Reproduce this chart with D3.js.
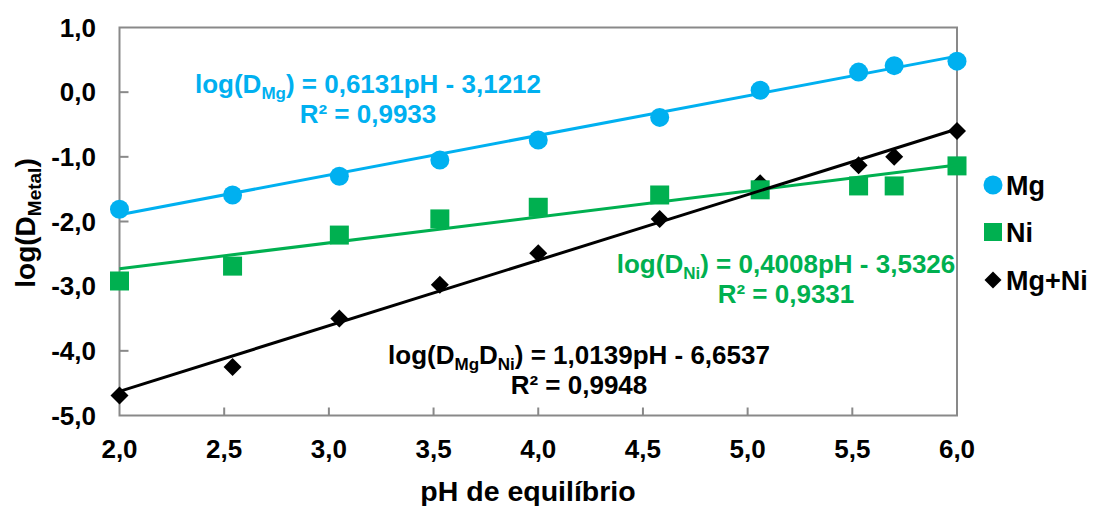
<!DOCTYPE html>
<html>
<head>
<meta charset="utf-8">
<script src="https://cdn.jsdelivr.net/npm/d3@7"></script>
<style>
  html, body { margin: 0; padding: 0; background: #fff; }
  svg { display: block; font-family: "Liberation Sans", Arial, sans-serif; font-weight: bold; }
</style>
</head>
<body>
<svg id="chart" width="1094" height="506"></svg>
<script>
// pH de equilíbrio for each experiment
const phMg   = [2.00, 2.54, 3.05, 3.53, 4.00, 4.58, 5.06, 5.53, 5.70, 6.00];
const phNi   = [2.00, 2.54, 3.05, 3.53, 4.00, 4.58, 5.06, 5.53, 5.70, 6.00];
const phMgNi = [2.00, 2.54, 3.05, 3.53, 4.00, 4.58, 5.06, 5.53, 5.70, 6.00];

// log of distribution coefficients
const logDMg   = [-1.81, -1.59, -1.30, -1.05, -0.74, -0.39, 0.03, 0.31, 0.41, 0.48];
const logDNi   = [-2.92, -2.69, -2.21, -1.96, -1.78, -1.59, -1.51, -1.45, -1.45, -1.14];
const logDMgNi = [-4.69, -4.25, -3.50, -2.98, -2.49, -1.96, -1.41, -1.13, -1.00, -0.60];

// linear fits: [slope, intercept]
const fitMg   = [0.6131, -3.1212];
const fitNi   = [0.4008, -3.5326];
const fitMgNi = [1.0139, -6.6537];

const xTicks = [2.0, 2.5, 3.0, 3.5, 4.0, 4.5, 5.0, 5.5, 6.0];
const yTicks = [-5, -4, -3, -2, -1, 0, 1];

const colMg = "#00B0F0", colNi = "#00B050", colMgNi = "#000000", axisCol = "#898989";

const svg = d3.select("#chart");
const x = d3.scaleLinear().domain([2, 6]).range([119.5, 957]);
const y = d3.scaleLinear().domain([-5, 1]).range([415.5, 27.5]);
const fmt = v => d3.format(".1f")(v).replace(".", ",").replace("−", "-");

// plot frame
svg.append("rect")
  .attr("x", x(2)).attr("y", y(1))
  .attr("width", x(6) - x(2)).attr("height", y(-5) - y(1))
  .attr("fill", "none").attr("stroke", axisCol).attr("stroke-width", 2);

// inward ticks
svg.append("g").selectAll("line").data(xTicks.slice(1, -1)).join("line")
  .attr("x1", d => x(d)).attr("x2", d => x(d))
  .attr("y1", y(-5)).attr("y2", y(-5) - 8)
  .attr("stroke", axisCol).attr("stroke-width", 2);
svg.append("g").selectAll("line").data(yTicks.slice(1, -1)).join("line")
  .attr("x1", x(2)).attr("x2", x(2) + 9)
  .attr("y1", d => y(d)).attr("y2", d => y(d))
  .attr("stroke", axisCol).attr("stroke-width", 2);

// tick labels
svg.append("g").selectAll("text").data(xTicks).join("text")
  .attr("x", d => x(d)).attr("y", 458)
  .attr("text-anchor", "middle").attr("font-size", 26).attr("fill", "#000")
  .text(fmt);
svg.append("g").selectAll("text").data(yTicks).join("text")
  .attr("x", 96).attr("y", d => y(d) + 9)
  .attr("text-anchor", "end").attr("font-size", 26).attr("fill", "#000")
  .text(fmt);

// axis titles
svg.append("text")
  .attr("x", 528).attr("y", 501)
  .attr("text-anchor", "middle").attr("font-size", 28.5).attr("fill", "#000")
  .text("pH de equilíbrio");

const yt = svg.append("text")
  .attr("transform", "translate(35,223) rotate(-90)")
  .attr("text-anchor", "middle").attr("font-size", 28).attr("fill", "#000");
yt.append("tspan").text("log(D");
yt.append("tspan").attr("font-size", 19).attr("dy", 6).text("Metal");
yt.append("tspan").attr("dy", -6).text(")");

// markers
const markers = svg.append("g");
const diamond = s => `M0,${-s}L${s},0L0,${s}L${-s},0Z`;
markers.append("g").selectAll("path").data(d3.zip(phMgNi, logDMgNi)).join("path")
  .attr("d", diamond(9))
  .attr("transform", d => `translate(${x(d[0])},${y(d[1])})`)
  .attr("fill", colMgNi);
markers.append("g").selectAll("rect").data(d3.zip(phNi, logDNi)).join("rect")
  .attr("x", d => x(d[0]) - 9.5).attr("y", d => y(d[1]) - 9.5)
  .attr("width", 19).attr("height", 19)
  .attr("fill", colNi);
markers.append("g").selectAll("circle").data(d3.zip(phMg, logDMg)).join("circle")
  .attr("cx", d => x(d[0])).attr("cy", d => y(d[1])).attr("r", 9.5)
  .attr("fill", colMg);

// trend lines from the fitted equations
const line = d3.line().x(d => x(d[0])).y(d => y(d[1]));
[[fitMg, colMg], [fitNi, colNi], [fitMgNi, colMgNi]].forEach(([f, c]) => {
  const pts = [2, 6].map(p => [p, f[0] * p + f[1]]);
  svg.append("path").attr("d", line(pts))
    .attr("fill", "none").attr("stroke", c).attr("stroke-width", 3);
});

// equation labels
function equation(parts, cx, y1, r2, color) {
  const t = svg.append("text").attr("x", cx).attr("y", y1)
    .attr("text-anchor", "middle").attr("font-size", 26).attr("fill", color);
  let shift = 0;
  parts.forEach(p => {
    const sub = p.startsWith("_");
    const target = sub ? 6 : 0;
    t.append("tspan")
      .attr("dy", target - shift)
      .attr("font-size", sub ? 17 : 26)
      .text(sub ? p.slice(1) : p);
    shift = target;
  });
  svg.append("text").attr("x", cx).attr("y", y1 + 30)
    .attr("text-anchor", "middle").attr("font-size", 26).attr("fill", color)
    .text(r2);
}
equation(["log(D", "_Mg", ") = 0,6131pH - 3,1212"], 368, 93, "R² = 0,9933", colMg);
equation(["log(D", "_Ni", ") = 0,4008pH - 3,5326"], 786, 273, "R² = 0,9331", colNi);
equation(["log(D", "_Mg", "D", "_Ni", ") = 1,0139pH - 6,6537"], 579, 364, "R² = 0,9948", colMgNi);

// legend
const lg = svg.append("g");
const lx = 993;
lg.append("circle").attr("cx", lx).attr("cy", 185).attr("r", 9.5).attr("fill", colMg);
lg.append("rect").attr("x", lx - 9).attr("y", 223).attr("width", 18).attr("height", 18).attr("fill", colNi);
lg.append("path").attr("d", diamond(8.5)).attr("transform", `translate(${lx},280)`).attr("fill", colMgNi);
[["Mg", 185], ["Ni", 232], ["Mg+Ni", 280]].forEach(([s, cy]) => {
  lg.append("text").attr("x", 1006).attr("y", cy + 10)
    .attr("font-size", 27).attr("fill", "#000").text(s);
});
</script>
</body>
</html>
